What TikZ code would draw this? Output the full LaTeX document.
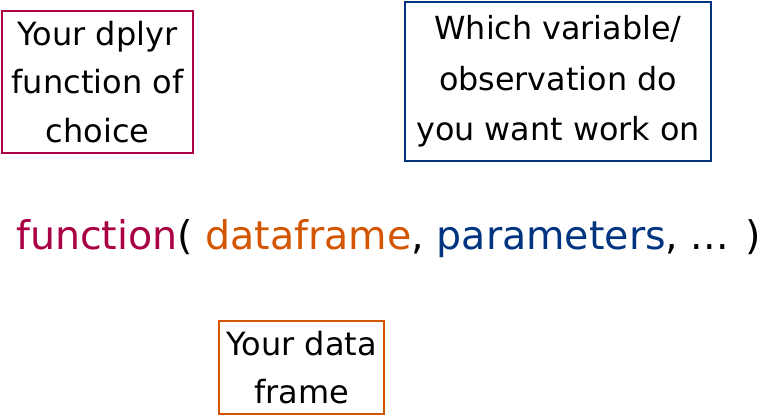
\documentclass[tikz,border=0pt]{standalone}
\usepackage{fontspec}
\setmainfont{DejaVu Sans}
\definecolor{crim}{HTML}{AA0044}
\definecolor{orng}{HTML}{D45500}
\definecolor{blu}{HTML}{003380}
\begin{document}
\begin{tikzpicture}[x=1pt,y=-1pt,
  boxnode/.style={draw, line width=2pt, inner sep=0pt, align=center, anchor=north west}]
\useasboundingbox (0,0) rectangle (763,415);
\node[boxnode, draw=crim, minimum width=191pt, minimum height=142pt,
  font=\fontsize{32}{48.5}\selectfont] (fun) at (1,10)
  {Your dplyr\\function of\\choice};
\node[boxnode, draw=blu, minimum width=306pt, minimum height=159pt,
  font=\fontsize{31.8}{50.5}\selectfont] (par) at (404,1)
  {Which variable/\\observation do\\you want work on};
\node[boxnode, draw=orng, minimum width=165pt, minimum height=93pt,
  font=\fontsize{32}{48}\selectfont] (df) at (218,320)
  {Your data\\frame};
\node[anchor=base west, inner sep=0pt, font=\fontsize{39.5}{46}\selectfont] (call) at (16,249)
  {\textcolor{crim}{function}( \textcolor{orng}{dataframe}, \textcolor{blu}{parameters}, ... )};
\end{tikzpicture}
\end{document}
